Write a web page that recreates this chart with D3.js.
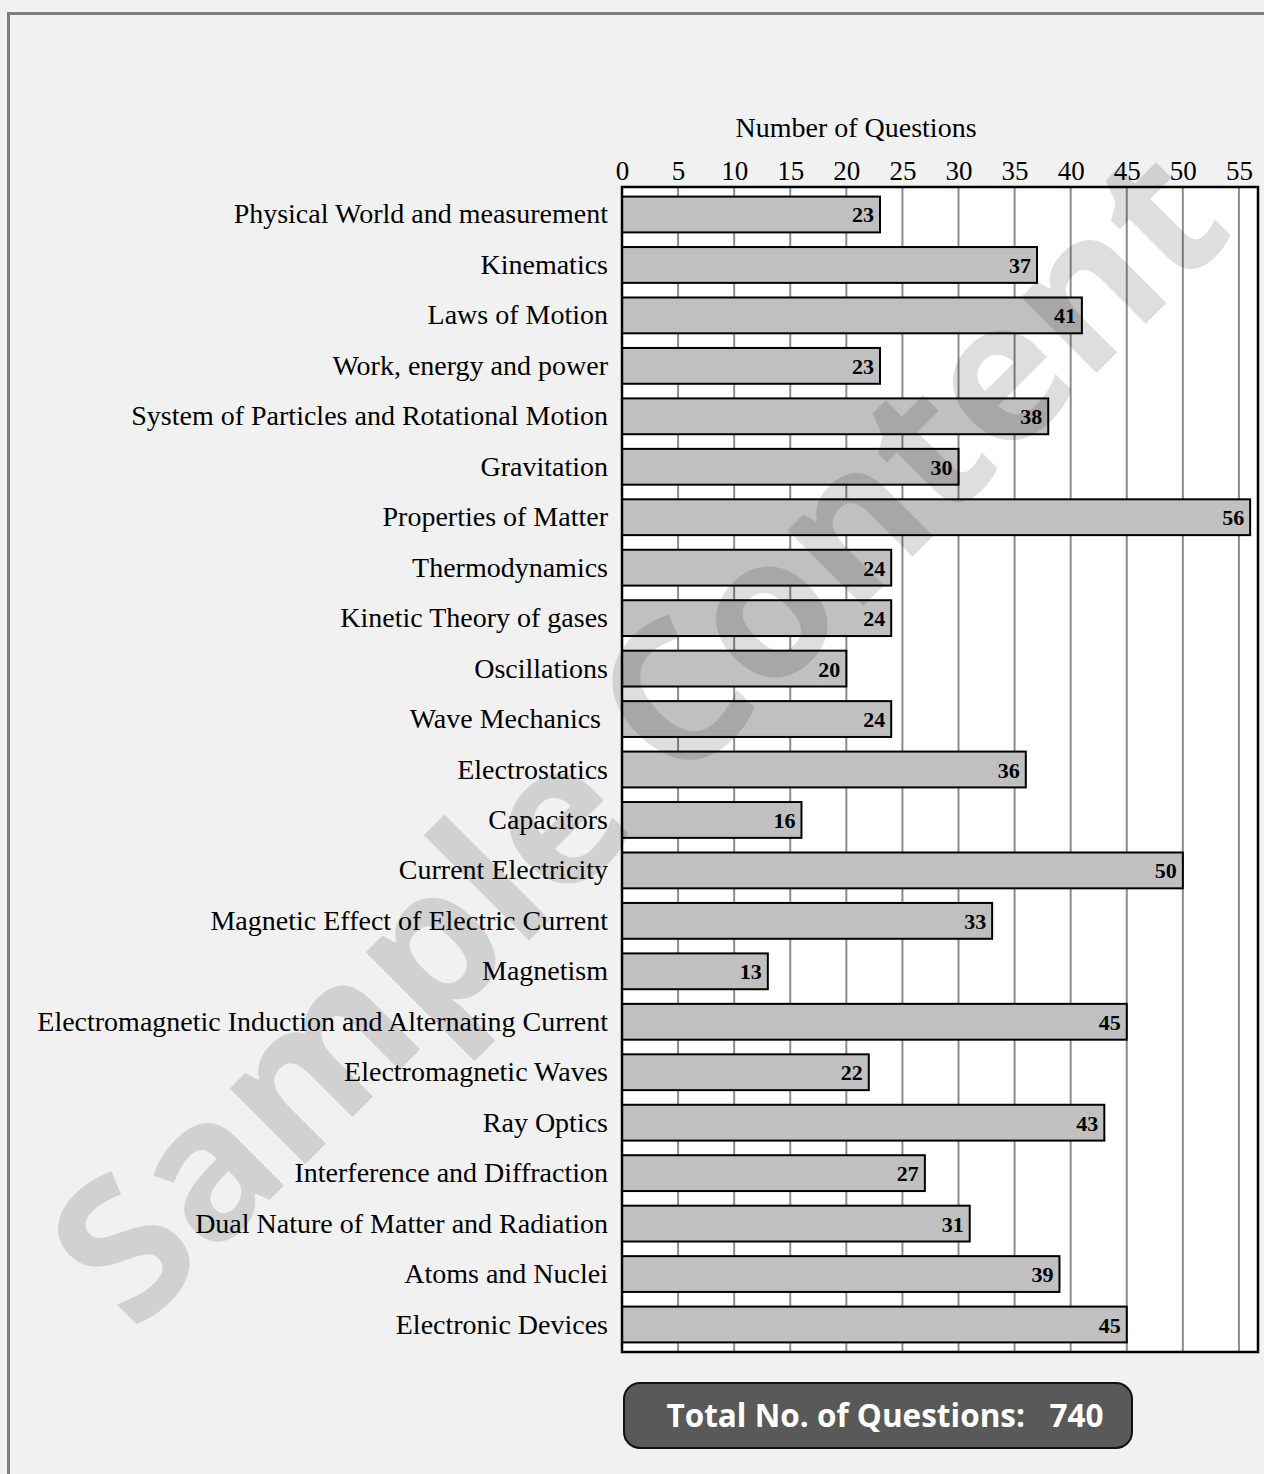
<!DOCTYPE html>
<html><head><meta charset="utf-8">
<script src="https://cdn.jsdelivr.net/npm/d3@7"></script>
<style>html,body{margin:0;padding:0;background:#f1f1f1;}svg{display:block;}</style>
</head><body>
<script>
const categories = ["Physical World and measurement","Kinematics","Laws of Motion","Work, energy and power","System of Particles and Rotational Motion","Gravitation","Properties of Matter","Thermodynamics","Kinetic Theory of gases","Oscillations","Wave Mechanics ","Electrostatics","Capacitors","Current Electricity","Magnetic Effect of Electric Current","Magnetism","Electromagnetic Induction and Alternating Current","Electromagnetic Waves","Ray Optics","Interference and Diffraction","Dual Nature of Matter and Radiation","Atoms and Nuclei","Electronic Devices"];
const values = [23,37,41,23,38,30,56,24,24,20,24,36,16,50,33,13,45,22,43,27,31,39,45];
const tickValues = [0,5,10,15,20,25,30,35,40,45,50,55];
const axisTitle = "Number of Questions";
const totalLabel = "Total No. of Questions:   740";
const watermark = "Sample Content";

(function(){
const W = 1264, H = 1474;
const serif = "'Liberation Serif', 'Times New Roman', serif";
const svg = d3.select("body").append("svg").attr("width", W).attr("height", H);
svg.append("rect").attr("x",0).attr("y",0).attr("width",W).attr("height",H).attr("fill","#f1f1f1");
svg.append("rect").attr("x",8.5).attr("y",13.5).attr("width",W+20).attr("height",H+20)
  .attr("fill","none").attr("stroke","#7f7f7f").attr("stroke-width",3);

const pL = 622, pR = 1258, pT = 187, pB = 1352;
const x = d3.scaleLinear().domain([0, 56.7]).range([pL, pR]);
const y = d3.scaleBand().domain(categories).range([pT, pB]).paddingInner(0.29).paddingOuter(0.19);

svg.append("rect").attr("x",pL).attr("y",pT).attr("width",pR-pL).attr("height",pB-pT).attr("fill","#ffffff");

// gridlines
svg.append("g").selectAll("line").data(tickValues.slice(1)).join("line")
  .attr("x1",d=>x(d)).attr("x2",d=>x(d)).attr("y1",pT).attr("y2",pB)
  .attr("stroke","#8c8c8c").attr("stroke-width",2);

// top axis
const axis = d3.axisTop(x).tickValues(tickValues).tickSize(0).tickPadding(7);
const gAxis = svg.append("g").attr("transform",`translate(0,${pT})`).call(axis);
gAxis.select(".domain").remove();
gAxis.selectAll("text").attr("font-family",serif).attr("font-size",27).attr("fill","#000");

svg.append("text").attr("x",856).attr("y",137).attr("text-anchor","middle")
  .attr("font-family",serif).attr("font-size",28).attr("fill","#000").text(axisTitle);

// bars
const data = categories.map((c,i)=>({c, v: values[i]}));
svg.append("g").selectAll("rect").data(data).join("rect")
  .attr("x", x(0)).attr("y", d=>y(d.c)).attr("width", d=>x(d.v)-x(0)).attr("height", y.bandwidth())
  .attr("fill","#c0c0c0").attr("stroke","#000").attr("stroke-width",2);

// value labels
svg.append("g").selectAll("text").data(data).join("text")
  .attr("x", d=>x(d.v)-6).attr("y", d=>y(d.c)+y.bandwidth()/2+8)
  .attr("text-anchor","end").attr("font-family",serif).attr("font-weight","bold")
  .attr("font-size",22).attr("fill","#000").text(d=>d.v);

// category labels
svg.append("g").selectAll("text").data(data).join("text")
  .attr("x", 608).attr("y", d=>y(d.c)+y.bandwidth()/2+9)
  .attr("text-anchor","end").attr("font-family",serif)
  .attr("font-size",28).attr("fill","#000").style("white-space","pre").text(d=>d.c);

// plot border
svg.append("rect").attr("x",pL).attr("y",pT).attr("width",pR-pL).attr("height",pB-pT)
  .attr("fill","none").attr("stroke","#000").attr("stroke-width",2.5);

// total box
svg.append("rect").attr("x",624).attr("y",1383).attr("width",508).attr("height",65).attr("rx",16).attr("ry",16)
  .attr("fill","#595959").attr("stroke","#111").attr("stroke-width",2);
svg.append("text").attr("x",885).attr("y",1427).attr("text-anchor","middle")
  .attr("font-family","'Open Sans', sans-serif").attr("font-weight","bold").attr("font-size",31.5)
  .attr("fill","#ffffff").style("white-space","pre").text(totalLabel);

// watermark
svg.append("text").attr("transform","translate(632,730) rotate(-45)")
  .attr("text-anchor","middle").attr("dominant-baseline","central")
  .attr("font-family","'Open Sans', sans-serif").attr("font-weight","bold").attr("font-size",196)
  .attr("fill","#000").attr("fill-opacity",0.13).text(watermark);
})();
</script>
</body></html>
